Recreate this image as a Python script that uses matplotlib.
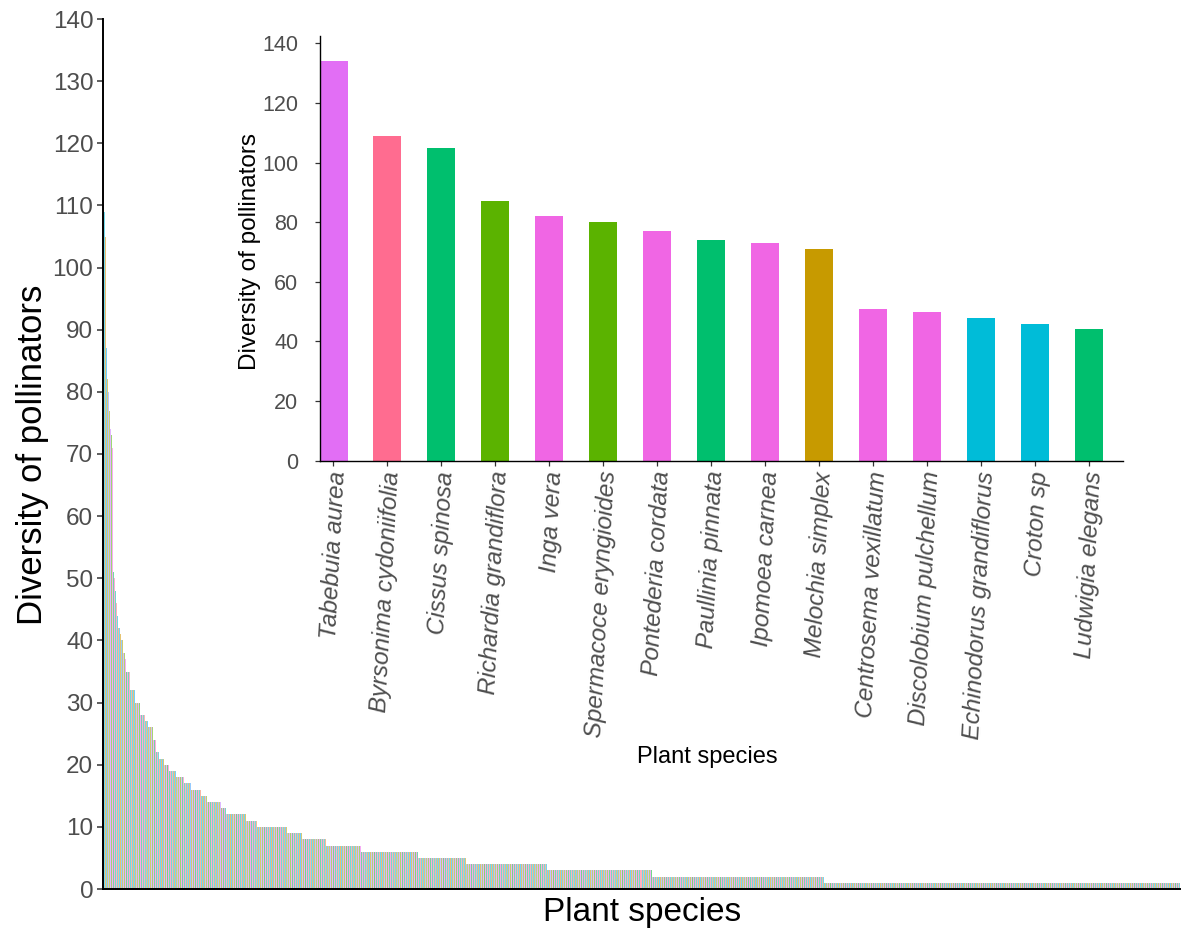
import numpy as np
import matplotlib
matplotlib.use("Agg")
import matplotlib.pyplot as plt
import matplotlib.transforms as mtransforms

plt.rcParams['font.family'] = ['Liberation Sans', 'DejaVu Sans']

# ---------------- data ----------------
# main chart: ranked pollinator diversity of every plant species
top_values = [134, 109, 105, 87, 82, 80, 77, 74, 73, 71, 51, 50, 48, 46, 44,
              42, 42, 41, 40, 40, 38, 38, 37]
level_values = [35, 32, 30, 28, 27, 26, 24, 22, 21, 20, 19, 18, 17, 16, 15,
                14, 13, 12, 11, 10, 9, 8, 7, 6, 5, 4, 3, 2, 1]
level_counts = [4, 5, 5, 5, 3, 5, 3, 3, 5, 5, 7, 8, 7, 10, 6,
                14, 5, 20, 11, 30, 15, 24, 35, 57, 48, 81, 104, 172, 356]

# inset: top 15 species
inset_species = ["Tabebuia aurea", "Byrsonima cydoniifolia", "Cissus spinosa",
                 "Richardia grandiflora", "Inga vera", "Spermacoce eryngioides",
                 "Pontederia cordata", "Paullinia pinnata", "Ipomoea carnea",
                 "Melochia simplex", "Centrosema vexillatum", "Discolobium pulchellum",
                 "Echinodorus grandiflorus", "Croton sp", "Ludwigia elegans"]
inset_values = [134, 109, 105, 87, 82, 80, 77, 74, 73, 71, 51, 50, 48, 46, 44]
inset_colors = ["#E26EF5", "#FF6C90", "#00BF6E", "#5BB300", "#F066E4", "#5BB300",
                "#F066E4", "#00BF6E", "#F066E4", "#C79A00", "#F066E4", "#F066E4",
                "#00BCD8", "#00BCD8", "#00BF6E"]

main_values = np.concatenate([np.array(top_values, float),
                              np.repeat(level_values, level_counts).astype(float)])
N = len(main_values)


# ---------------- colours (ggplot-like hue palette, pastel) ----------------
def hcl_to_rgb(h, c=100.0, l=65.0):
    hr = np.deg2rad(h)
    u, v = c * np.cos(hr), c * np.sin(hr)
    Xn, Yn, Zn = 0.95047, 1.0, 1.08883
    un = 4 * Xn / (Xn + 15 * Yn + 3 * Zn)
    vn = 9 * Yn / (Xn + 15 * Yn + 3 * Zn)
    Y = ((l + 16) / 116) ** 3
    up = u / (13 * l) + un
    vp = v / (13 * l) + vn
    X = Y * 9 * up / (4 * vp)
    Z = Y * (12 - 3 * up - 20 * vp) / (4 * vp)
    M = np.array([[3.2406, -1.5372, -0.4986],
                  [-0.9689, 1.8758, 0.0415],
                  [0.0557, -0.2040, 1.0570]])
    rgb = M @ np.array([X, Y, Z])
    rgb = np.clip(rgb, 0, 1)
    rgb = np.where(rgb <= 0.0031308, 12.92 * rgb, 1.055 * rgb ** (1 / 2.4) - 0.055)
    return np.clip(rgb, 0, 1)


hues = np.linspace(15, 375, N, endpoint=False)
perm = (np.arange(N) * 577) % N
alpha = 0.55
main_colors = []
for i in range(N):
    rgb = hcl_to_rgb(hues[perm[i]])
    main_colors.append(tuple(alpha * rgb + (1 - alpha)))

# ---------------- figure ----------------
W, H = 1185, 935
fig = plt.figure(figsize=(W / 100, H / 100), dpi=100)


def px_axes(left, top, right, bottom):
    return fig.add_axes([left / W, 1 - bottom / H, (right - left) / W, (bottom - top) / H])


ax = px_axes(103, 19, 1180, 889)
x = np.arange(N)
ax.bar(x, main_values, width=1.0, color=main_colors, linewidth=0)
ax.set_xlim(-0.5, N - 0.5)
ax.set_ylim(0, 140)
ax.set_yticks(np.arange(0, 141, 10))
ax.set_xticks([])
for s in ['top', 'right']:
    ax.spines[s].set_visible(False)
for s in ['left', 'bottom']:
    ax.spines[s].set_linewidth(1.4)
    ax.spines[s].set_color('black')
ax.tick_params(axis='y', length=4, width=1.1, color='#333333',
               labelsize=17.5, labelcolor='#4D4D4D', pad=3)

fig.text(33 / W, 1 - 455 / H, "Diversity of pollinators", rotation=90,
         ha='center', va='center', fontsize=25, color='black')
fig.text(642 / W, 1 - 912 / H, "Plant species", ha='center', va='center',
         fontsize=24, color='black')

# ---------------- inset ----------------
ia = px_axes(320, 36, 1123, 460.6)
ia.set_facecolor('none')
xi = np.arange(len(inset_values))
ia.bar(xi, inset_values, width=0.52, color=inset_colors, linewidth=0)
ia.set_xlim(-0.25, 14.63)
ia.set_ylim(0, 142.5)
ia.set_yticks(np.arange(0, 141, 20))
ia.set_xticks(xi)
ia.set_xticklabels([])
label_trans = ia.get_xaxis_transform() + mtransforms.ScaledTranslation(
    5 / 100, -10.5 / 100, fig.dpi_scale_trans)
for xpos, name in zip(xi, inset_species):
    ia.text(xpos, 0, name, transform=label_trans, rotation=87, ha='right',
            va='center', rotation_mode='anchor', fontstyle='italic',
            fontsize=17.5, color='#4D4D4D', clip_on=False)
for s in ['top', 'right']:
    ia.spines[s].set_visible(False)
for s in ['left', 'bottom']:
    ia.spines[s].set_linewidth(1.0)
    ia.spines[s].set_color('black')
ia.tick_params(axis='y', length=3.5, width=0.9, color='#333333',
               labelsize=15.5, labelcolor='#4D4D4D', pad=12)
ia.tick_params(axis='x', length=3.5, width=0.9, color='#333333', pad=4)

fig.text(250 / W, 1 - 251 / H, "Diversity of pollinators", rotation=90,
         ha='center', va='center', fontsize=17.5, color='black')
fig.text(707 / W, 1 - 757 / H, "Plant species", ha='center', va='center',
         fontsize=17, color='black')

fig.savefig("out.png", dpi=100, facecolor='white')
